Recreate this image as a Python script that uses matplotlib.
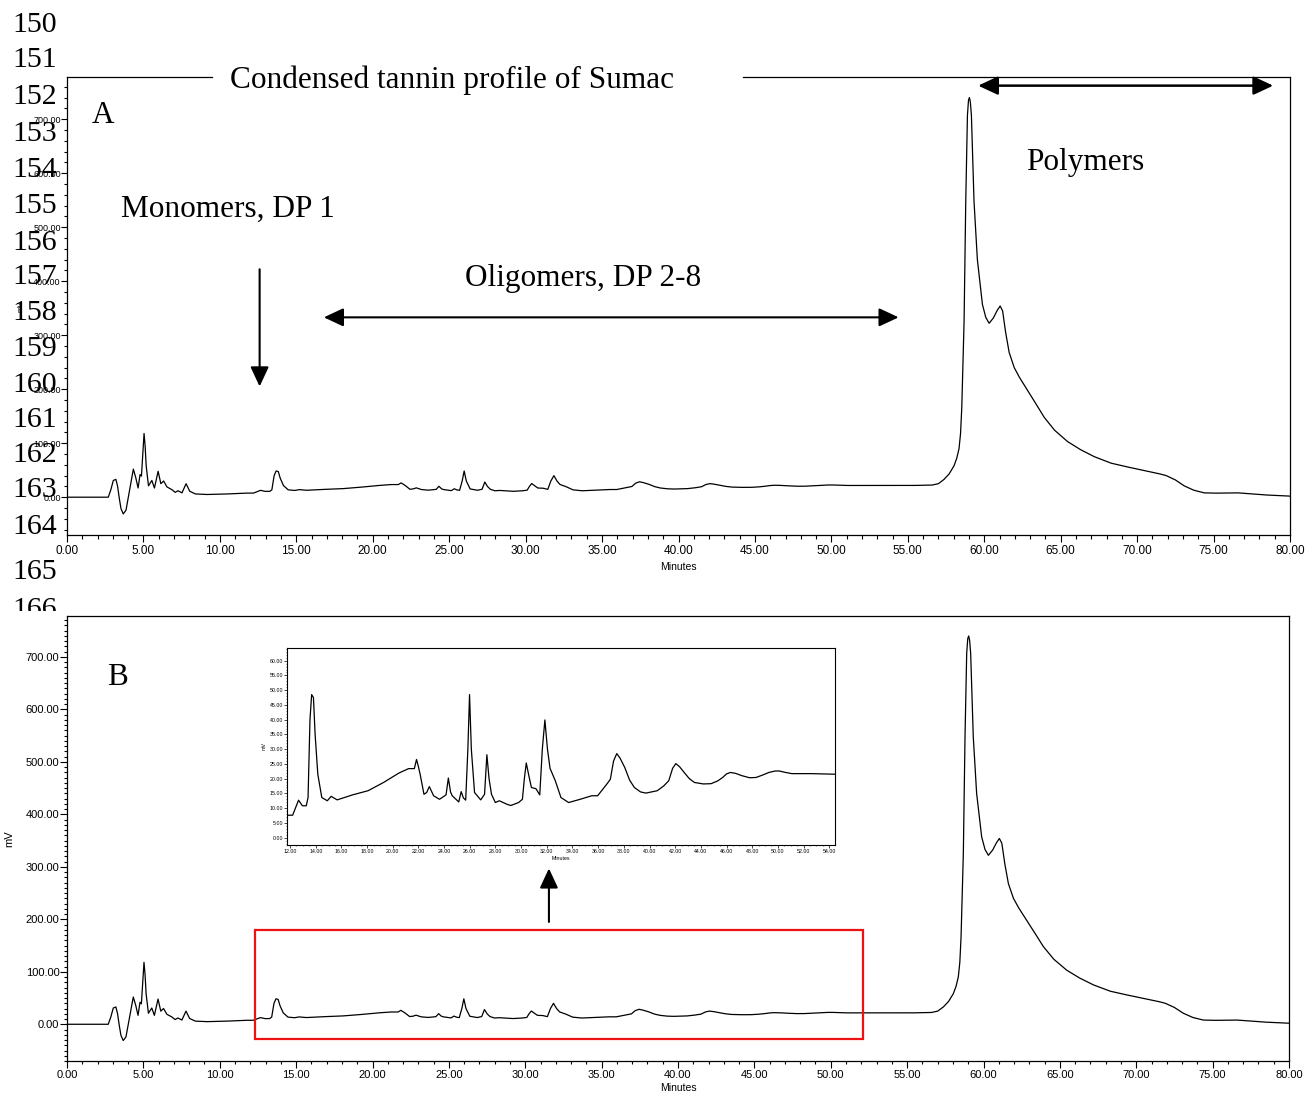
import matplotlib
matplotlib.use('Agg')
import matplotlib.pyplot as plt
from matplotlib.patches import Rectangle
from matplotlib.ticker import MultipleLocator, FormatStrFormatter
from matplotlib.transforms import Bbox, TransformedBbox

W, H = 1316, 1099  # 출력 크기 (px)

# 크로마토그램 (분, mV) - 그림에서 읽은 값
minutes = [0.0, 2.70, 2.87, 3.03, 3.2, 3.31, 3.42, 3.53, 3.68, 3.86, 4.08, 4.34, 4.5, 4.65,
           4.78, 4.87, 4.96, 5.04, 5.11, 5.18, 5.33, 5.55, 5.72, 5.96, 6.14, 6.32, 6.54,
           6.86, 7.08, 7.26, 7.52, 7.79, 8.03, 8.4, 9.17, 10.48, 11.8, 12.2,
           12.66, 12.96, 13.26, 13.4, 13.55, 13.68, 13.82, 13.95, 14.16, 14.47, 14.9, 15.2,
           15.35, 15.67, 16.87, 18.07, 19.28, 20.48, 21.23, 21.68, 21.85, 22.0, 22.13, 22.43,
           22.64, 22.85, 23.18, 23.64, 24.15, 24.33, 24.5, 24.63, 25.14, 25.33, 25.5, 25.68,
           25.85, 25.98, 26.12, 26.37, 26.85, 27.15, 27.33, 27.5, 27.69, 27.99, 28.3, 28.9,
           29.2, 29.8, 30.1, 30.25, 30.4, 30.6, 30.8, 31.15, 31.45, 31.65, 31.85, 32.05,
           32.25, 32.66, 33.1, 33.7, 34.6, 35.5, 35.96, 36.7, 36.95, 37.2, 37.45, 37.7,
           38.07, 38.45, 38.82, 39.3, 39.72, 40.6, 41.1, 41.5, 41.8, 42.05, 42.35, 42.7,
           43.1, 43.5, 44.2, 44.8, 45.3, 45.7, 46.0, 46.3, 46.7, 47.2, 47.8, 48.3, 48.8,
           49.3, 49.8, 50.1, 50.6, 51.1, 52.6, 54.45,
           55.5, 56.6, 57.0, 57.37, 57.7, 58.02, 58.2, 58.35, 58.45, 58.53, 58.68, 58.79,
           58.9, 58.97, 59.03, 59.09, 59.16, 59.33, 59.55, 59.88, 60.1, 60.32, 60.6, 60.85,
           61.04, 61.2, 61.4, 61.63, 61.96, 62.3, 62.83, 63.4, 63.92, 64.6, 65.45, 66.3,
           67.2, 68.3, 69.37, 70.5, 71.5, 71.9, 72.5, 73.08, 73.7, 74.39, 75.2, 76.6,
           78.5, 80.0]
mv = [0.0, 0.0, 14, 31, 33, 20, -2, -21, -31, -24, 11, 52, 36, 17,
      42, 39, 80, 118, 95, 58, 21, 31, 17, 48, 25, 30, 19,
      14, 9, 12, 8, 25, 11, 6, 5, 6, 7.6, 7.6,
      12.7, 10.8, 10.8, 13.6, 40, 48.5, 47.5, 35, 21.5, 13.6, 12.5, 14.0,
      13.6, 12.8, 14.5, 15.9, 18.7, 21.9, 23.4, 23.4, 26.5, 24, 21.5, 14.7,
      15.3, 17.3, 14.2, 13.0, 14.5, 20.2, 15.5, 14.2, 12.1, 15.6, 13.5, 12.7,
      30, 48.5, 30, 15.3, 12.8, 14.7, 28.1, 20, 14.7, 11.9, 12.5, 11.3,
      10.9, 11.9, 13.0, 20, 25.3, 21, 17.0, 16.6, 14.5, 30, 39.9, 30,
      23.5, 19.3, 13.6, 11.9, 13.0, 14.2, 14.2, 18.3, 19.8, 26, 28.5, 27,
      23.8, 19.5, 17.0, 15.5, 15.1, 15.9, 17.5, 19.3, 23.5, 25.1, 24, 22.1,
      20, 18.7, 18.2, 18.3, 19.2, 20.4, 21.6, 22.1, 21.8, 21.0, 20.3, 20.4, 21.2,
      22.1, 22.6, 22.6, 22.1, 21.7, 21.7, 21.5,
      21.8, 22.5, 25, 33, 43, 58, 72, 90, 118, 166, 325, 548,
      707, 735, 740, 732, 707, 548, 440, 357, 333, 322, 332, 346,
      354, 345, 305, 268, 240, 222, 198, 172, 148, 124, 103, 88,
      75, 63, 56, 49, 43, 40, 32, 21, 13, 8, 7.5, 8,
      4, 2]

# 축 눈금
x_major = 5
y_major = 100
inset_x_major = 2
inset_y_major = 5

# 왼쪽 줄 번호 (원문 원고)
line_numbers = [str(n) for n in range(150, 167)]
line_baselines = [32, 67, 104, 141, 177, 213, 250, 284, 320, 356, 392, 427, 462, 497,
                  534, 579, 617]

SERIF = ['Liberation Serif', 'DejaVu Serif']
SANS = ['Liberation Sans', 'DejaVu Sans']
NARROW = ['Liberation Sans Narrow', 'Liberation Sans', 'DejaVu Sans']
LABEL_SIZE = 22.5  # 주석 글자 크기


def px_rect(l, t, r, b):
    # 픽셀 좌표 -> figure 좌표
    return [l / W, 1 - b / H, (r - l) / W, (b - t) / H]


def fx(x):
    return x / W


def fy(y):
    return 1 - y / H


fig = plt.figure(figsize=(W / 100, H / 100), dpi=100)
fig.patch.set_facecolor('white')

# ---------------- 패널 A ----------------
axA = fig.add_axes(px_rect(67, 77, 1290, 535))
axA.plot(minutes, mv, color='black', lw=0.9)
axA.set_xlim(0, 80)
axA.set_ylim(-70, 778)
axA.xaxis.set_major_locator(MultipleLocator(x_major))
axA.xaxis.set_minor_locator(MultipleLocator(1))
axA.yaxis.set_major_locator(MultipleLocator(y_major))
axA.yaxis.set_minor_locator(MultipleLocator(20))
axA.xaxis.set_major_formatter(FormatStrFormatter('%.2f'))
axA.yaxis.set_major_formatter(FormatStrFormatter('%.2f'))
axA.tick_params(axis='x', which='major', length=5, width=0.8, pad=2, labelsize=8.5)
axA.tick_params(axis='x', which='minor', length=3, width=0.8)
axA.tick_params(axis='y', which='major', length=4, width=0.8, pad=0.5, labelsize=6.5)
axA.tick_params(axis='y', which='minor', length=2.5, width=0.8)
for lab in axA.get_xticklabels():
    lab.set_family(NARROW)
for lab in axA.get_yticklabels():
    lab.set_family(SANS)
for s in axA.spines.values():
    s.set_linewidth(0.9)
axA.spines['top'].set_visible(False)
# 제목 자리를 비운 위쪽 테두리
axA.plot([0, 0.1186], [1, 1], transform=axA.transAxes, color='black', lw=0.9, clip_on=False)
axA.plot([0.5527, 1], [1, 1], transform=axA.transAxes, color='black', lw=0.9, clip_on=False)
axA.set_xlabel('Minutes', family=NARROW, fontsize=7.5, labelpad=4)
axA.set_ylabel('mV', family=SANS, fontsize=5.5, labelpad=6)

# 주석 (A)
axA.annotate('', xy=(12.6, 205), xytext=(12.6, 422),
             arrowprops=dict(arrowstyle='-|>,head_length=0.6,head_width=0.28', color='black',
                             lw=1.5, shrinkA=0, shrinkB=0, mutation_scale=20))
axA.annotate('', xy=(16.8, 333), xytext=(54.4, 333),
             arrowprops=dict(arrowstyle='<|-|>,head_length=0.6,head_width=0.28', color='black',
                             lw=1.5, shrinkA=0, shrinkB=0, mutation_scale=20))
axA.annotate('', xy=(59.6, 762), xytext=(78.9, 762),
             arrowprops=dict(arrowstyle='<|-|>,head_length=0.6,head_width=0.28', color='black',
                             lw=1.8, shrinkA=0, shrinkB=0, mutation_scale=20))

fig.text(fx(452), fy(88), 'Condensed tannin profile of Sumac', family=SERIF,
         fontsize=LABEL_SIZE, ha='center', va='baseline')
fig.text(fx(103), fy(123), 'A', family=SERIF, fontsize=LABEL_SIZE, ha='center', va='baseline')
fig.text(fx(228), fy(217), 'Monomers, DP 1', family=SERIF, fontsize=LABEL_SIZE,
         ha='center', va='baseline')
fig.text(fx(583), fy(286), 'Oligomers, DP 2-8', family=SERIF, fontsize=LABEL_SIZE,
         ha='center', va='baseline')
fig.text(fx(1085), fy(170), 'Polymers', family=SERIF, fontsize=LABEL_SIZE,
         ha='center', va='baseline')

# ---------------- 패널 B ----------------
axB = fig.add_axes(px_rect(67, 616, 1289, 1061))
axB.plot(minutes, mv, color='black', lw=0.9)
axB.set_xlim(0, 80)
axB.set_ylim(-70, 778)
axB.xaxis.set_major_locator(MultipleLocator(x_major))
axB.xaxis.set_minor_locator(MultipleLocator(1))
axB.yaxis.set_major_locator(MultipleLocator(y_major))
axB.yaxis.set_minor_locator(MultipleLocator(10))
axB.xaxis.set_major_formatter(FormatStrFormatter('%.2f'))
axB.yaxis.set_major_formatter(FormatStrFormatter('%.2f'))
axB.tick_params(axis='both', which='major', length=5, width=0.8, pad=1.5, labelsize=8)
axB.tick_params(axis='both', which='minor', length=2.5, width=0.8)
axB.tick_params(axis='y', which='major', pad=0.5)
for lab in axB.get_xticklabels() + axB.get_yticklabels():
    lab.set_family(SANS)
for s in axB.spines.values():
    s.set_linewidth(0.9)
axB.set_xlabel('Minutes', family=SANS, fontsize=7.5, labelpad=2)
axB.set_ylabel('mV', family=SANS, fontsize=8, labelpad=8)

# 확대 영역 표시
axB.add_patch(Rectangle((12.31, -28.6), 52.11 - 12.31, 179 + 28.6, fill=False,
                        edgecolor='#ee1111', lw=1.6, zorder=3))
axB.annotate('', xy=(31.55, 297), xytext=(31.55, 195),
             arrowprops=dict(arrowstyle='-|>,head_length=0.6,head_width=0.28', color='black',
                             lw=1.5, shrinkA=0, shrinkB=0, mutation_scale=20))
fig.text(fx(117), fy(685), 'B', family=SERIF, fontsize=LABEL_SIZE, ha='center', va='baseline')

# 삽입 그래프 (12-54분 확대)
axI = fig.add_axes(px_rect(287, 648, 835, 845))
axI.plot(minutes, mv, color='black', lw=0.9)
axI.set_xlim(11.76, 54.45)
axI.set_ylim(-2.5, 64.3)
axI.xaxis.set_major_locator(MultipleLocator(inset_x_major))
axI.xaxis.set_minor_locator(MultipleLocator(0.5))
axI.yaxis.set_major_locator(MultipleLocator(inset_y_major))
axI.yaxis.set_minor_locator(MultipleLocator(1))
axI.xaxis.set_major_formatter(FormatStrFormatter('%.2f'))
axI.yaxis.set_major_formatter(FormatStrFormatter('%.2f'))
axI.tick_params(axis='both', which='major', length=2, width=0.5, pad=1, labelsize=3.8)
axI.tick_params(axis='both', which='minor', length=1, width=0.4)
for lab in axI.get_xticklabels() + axI.get_yticklabels():
    lab.set_family(SANS)
for s in axI.spines.values():
    s.set_linewidth(0.8)
axI.set_xlabel('Minutes', family=SANS, fontsize=3.8, labelpad=1)
axI.set_ylabel('mV', family=SANS, fontsize=3.8, labelpad=2)

# 줄 번호 (166 은 패널 B 위에서 잘림)
clip = TransformedBbox(Bbox.from_extents(0, fy(611), 1, 1), fig.transFigure)
for num, yb in zip(line_numbers, line_baselines):
    t = fig.text(fx(12), fy(yb), num, family=SERIF, fontsize=21.5, ha='left', va='baseline')
    if num == '166':
        t.set_clip_box(clip)
        t.set_clip_on(True)

plt.savefig('out.png', dpi=100, facecolor='white')
